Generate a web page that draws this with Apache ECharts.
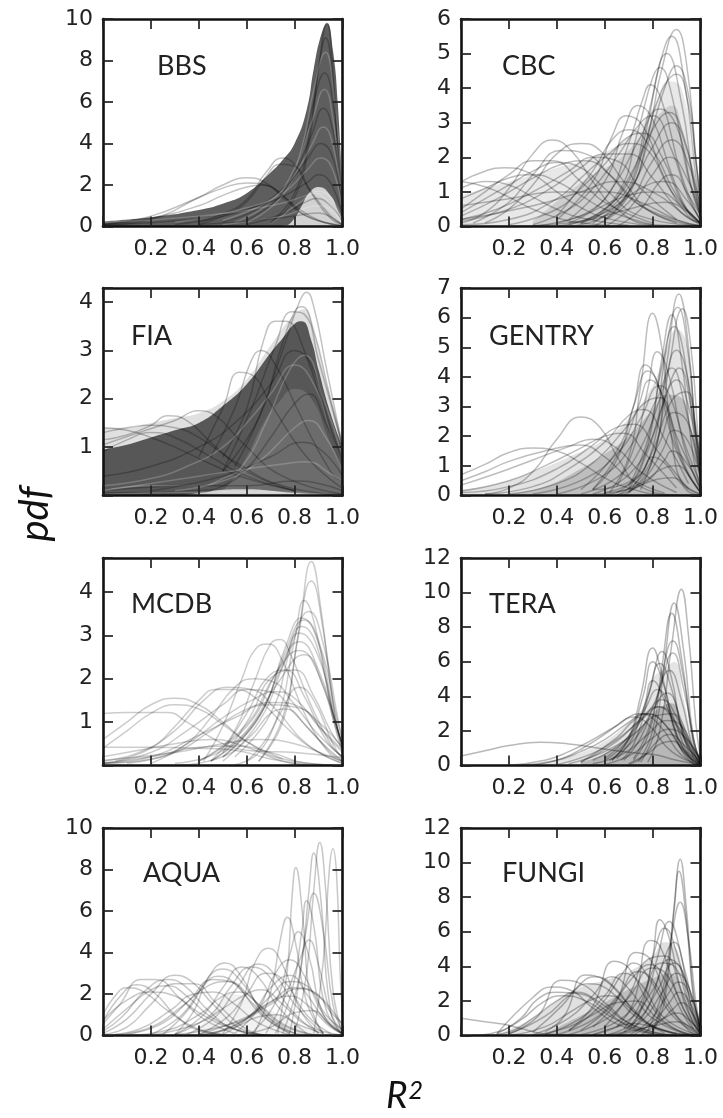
<!DOCTYPE html>
<html><head><meta charset="utf-8">
<style>html,body{margin:0;padding:0;background:#fff}#c{width:723px;height:1118px;filter:blur(.55px)}</style>
<script src="https://cdn.jsdelivr.net/npm/echarts@6/dist/echarts.min.js"></script></head>
<body><div id="c"></div>
<script>
const xTicks=[0.2,0.4,0.6,0.8,1.0];
const bbsTicks=[0,2,4,6,8,10], cbcTicks=[0,1,2,3,4,5,6], fiaTicks=[1,2,3,4], gentryTicks=[0,1,2,3,4,5,6,7],
      mcdbTicks=[1,2,3,4], teraTicks=[0,2,4,6,8,10,12], aquaTicks=[0,2,4,6,8,10], fungiTicks=[0,2,4,6,8,10,12];

// BBS
const bbsMass=[[0,.25],[.2,.45],[.4,.8],[.5,1.1],[.6,1.6],[.7,2.6],[.75,3.2],[.8,4],[.85,5.6],[.88,7.6],[.91,9.2],[.935,9.8],[.96,8.5],[.98,6],[1,1.5]];
const bbsGap=[[0,0],[.7,0],[.76,.05],[.8,.4],[.83,1],[.86,1.6],[.9,1.9],[.95,1.5],[.98,.8],[1,.3]];
const bbsCurves=[
[[0,.05],[.2,.35],[.4,1.4],[.5,2],[.6,2.35],[.68,2.1],[.76,1.3],[.85,.5],[1,.05]],
[[0,.1],[.2,.5],[.4,1.4],[.5,1.85],[.6,2.1],[.7,1.9],[.8,1],[.9,.3],[1,.02]],
[[0,.1],[.2,.4],[.4,1],[.5,1.5],[.6,1.9],[.67,2],[.75,1.5],[.85,.5],[1,.03]],
[[.4,.2],[.5,.6],[.6,1.3],[.68,2.6],[.75,3.3],[.8,3],[.85,2],[.95,.5],[1,.1]],
[[.4,.1],[.5,.5],[.6,1.2],[.68,2.4],[.74,3],[.8,2.9],[.87,1.6],[.95,.4],[1,.1]],
[[.7,.1],[.8,1.4],[.86,4],[.9,7.6],[.935,9.8],[.96,7.5],[.98,3.5],[1,.7]],
[[.7,.2],[.8,1.6],[.86,4.4],[.9,7.6],[.93,9.1],[.96,7],[.98,4],[1,1]],
[[.6,.2],[.75,1.5],[.83,3.8],[.88,6.6],[.93,8.4],[.96,6.8],[.99,3],[1,1.2]],
[[.6,.3],[.75,1.6],[.83,3.6],[.88,6],[.925,7.4],[.96,6],[.99,2.5],[1,1]],
[[.55,.2],[.7,1.2],[.8,2.8],[.87,5],[.925,6.6],[.96,5.2],[.99,2.2],[1,1]],
[[.5,.2],[.7,1.2],[.8,2.6],[.87,4.4],[.92,5.7],[.96,4.6],[.99,2],[1,1]],
[[.5,.3],[.7,1.3],[.8,2.5],[.87,3.9],[.92,4.8],[.96,3.9],[1,1]],
[[.3,.1],[.6,.8],[.75,1.8],[.85,3.2],[.91,4],[.96,3.3],[1,.8]],
[[.3,.2],[.6,.9],[.75,1.6],[.85,2.7],[.91,3.3],[.96,2.7],[1,.7]],
[[0,.1],[.4,.4],[.7,1.2],[.85,2.1],[.9,2.5],[.95,2.1],[1,.5]],
[[0,.2],[.4,.5],[.7,1],[.85,1.5],[.89,1.7],[.95,1.4],[1,.3]],
[[.6,.1],[.75,.6],[.85,1.2],[.89,1.35],[.95,1],[1,.2]],
[[.5,.1],[.75,.5],[.85,.9],[.9,1],[.96,.7],[1,.1]],
[[.4,.1],[.7,.35],[.85,.6],[.9,.65],[.96,.4],[1,.05]],
[[.7,.1],[.85,1.4],[.88,1.6],[.93,1.3],[1,.1]]
];

// CBC
const cbcHalo=[[0,.9],[.2,1.3],[.4,1.7],[.55,2],[.7,2.6],[.8,3.4],[.87,4.2],[.92,4],[.97,2],[1,.5]];
const cbcCore=[[.3,.15],[.45,1],[.55,1.5],[.65,1.9],[.75,2.6],[.82,3.2],[.88,3.5],[.93,2.5],[.98,1],[1,.3]];
const cbcCurves=[
[[.6,.2],[.7,.9],[.78,2.6],[.84,4.6],[.9,5.7],[.94,4.8],[.98,2],[1,.6]],
[[.6,.2],[.7,1],[.78,3],[.83,4.7],[.88,5.5],[.93,4.3],[.98,1.5],[1,.5]],
[[.55,.2],[.7,1.3],[.78,3.2],[.86,5],[.92,3.6],[.97,1.3],[1,.3]],
[[.55,.1],[.7,1],[.78,2.4],[.85,4],[.9,4.65],[.95,3.8],[.98,2],[1,.8]],
[[.5,.1],[.65,.7],[.75,2],[.83,3.8],[.9,4.4],[.95,3.5],[.98,1.9],[1,.8]],
[[.5,.1],[.65,.9],[.74,2.8],[.8,4.3],[.83,4.6],[.88,3.8],[.95,1.4],[1,.3]],
[[.45,.1],[.6,.8],[.7,2.4],[.76,3.7],[.79,4.1],[.84,3.6],[.92,1.5],[1,.15]],
[[.45,.2],[.6,1.3],[.68,2.8],[.74,3.5],[.8,3.1],[.88,1.5],[.95,.4],[1,.1]],
[[.4,.2],[.55,1.3],[.63,2.6],[.69,3.2],[.76,2.9],[.85,1.4],[.95,.3],[1,.1]],
[[.4,.3],[.55,1.6],[.63,2.5],[.7,2.8],[.8,2.2],[.9,.9],[1,.1]],
[[0,.1],[.1,.4],[.2,1.1],[.3,2.1],[.38,2.5],[.46,2.2],[.55,1.3],[.65,.5],[.8,.05],[1,0]],
[[.1,.1],[.2,.5],[.3,1.2],[.4,2.1],[.5,2.4],[.58,2.2],[.68,1.3],[.8,.4],[1,.02]],
[[.05,.1],[.2,.7],[.3,1.5],[.42,2.2],[.52,2.1],[.62,1.5],[.75,.6],[1,.02]],
[[0,1.3],[.1,1.6],[.18,1.7],[.3,1.5],[.4,1],[.5,.55],[.6,.25],[.8,.02]],
[[0,1.3],[.1,1.15],[.2,.85],[.3,.5],[.4,.25],[.5,.1],[.7,0]],
[[0,1.1],[.1,1.3],[.2,1.2],[.3,.85],[.4,.5],[.5,.25],[.7,.03]],
[[0,.8],[.1,1.1],[.2,1.4],[.3,1.5],[.4,1.3],[.5,.9],[.6,.5],[.8,.05]],
[[0,.5],[.1,1],[.2,1.5],[.3,1.9],[.38,1.9],[.5,1.3],[.6,.7],[.8,.1]],
[[0,.4],[.1,.8],[.2,1.2],[.3,1.6],[.4,1.85],[.5,1.7],[.6,1.1],[.75,.3],[1,.02]],
[[0,.3],[.15,.8],[.3,1.4],[.42,1.8],[.52,1.9],[.62,1.5],[.75,.6],[.9,.1]],
[[0,.2],[.15,.5],[.3,1],[.45,1.6],[.55,2],[.65,1.9],[.75,1.1],[.9,.2]],
[[0,.15],[.2,.5],[.35,1],[.5,1.7],[.6,2.1],[.7,2.1],[.8,1.4],[.92,.4],[1,.1]],
[[0,.05],[.2,.2],[.4,.8],[.5,1.4],[.6,2],[.7,2.4],[.78,2.2],[.88,1],[1,.1]],
[[.2,.05],[.4,.5],[.5,1.1],[.6,1.8],[.7,2.6],[.76,2.7],[.84,2],[.93,.6],[1,.1]],
[[.3,.05],[.45,.5],[.55,1.1],[.65,2],[.75,3],[.8,3.2],[.88,2.2],[.95,.8],[1,.2]],
[[.4,.1],[.55,.5],[.65,1.3],[.75,2.6],[.83,3.4],[.9,2.9],[.96,1.2],[1,.3]],
[[.45,.05],[.6,.5],[.7,1.4],[.8,2.8],[.87,3.3],[.93,2.6],[.98,1],[1,.4]],
[[.45,0],[.6,.3],[.7,1],[.8,2.3],[.88,3],[.94,2.3],[1,.4]],
[[.55,0],[.7,.7],[.8,1.9],[.88,2.5],[.95,1.8],[1,.4]],
[[.6,0],[.7,.5],[.8,1.5],[.87,2],[.95,1.3],[1,.3]],
[[.65,0],[.75,.5],[.83,1.3],[.88,1.5],[.95,.9],[1,.3]],
[[.4,0],[.6,.4],[.75,1.1],[.85,1.3],[.95,.7],[1,.15]],
[[.3,0],[.5,.3],[.7,.9],[.82,1],[.92,.6],[1,.1]],
[[.2,0],[.5,.15],[.7,.5],[.85,.7],[.95,.4],[1,.05]],
[[0,.6],[.2,.8],[.4,1],[.6,1],[.75,.7],[.9,.2],[1,.02]],
[[0,.2],[.3,.6],[.5,1],[.65,1.3],[.8,1],[.95,.25],[1,.05]]
];

// FIA
const fiaHalo=[[0,1.4],[.1,1.4],[.2,1.5],[.3,1.6],[.4,1.7],[.5,1.95],[.6,2.4],[.7,3.1],[.8,3.75],[.84,3.85],[.88,3.4],[.94,2.2],[1,1.2]];
const fiaMass=[[0,.95],[.1,1.05],[.2,1.2],[.3,1.35],[.4,1.5],[.5,1.85],[.6,2.3],[.7,2.95],[.75,3.25],[.8,3.55],[.83,3.6],[.87,3.2],[.9,2.6],[.95,1.7],[1,1]];
const fiaSoft=[[.46,0],[.52,.2],[.6,.8],[.67,1.5],[.73,1.9],[.8,2.2],[.87,2],[.94,1.2],[1,.5]];
const fiaGap=[[.33,0],[.42,.06],[.5,.12],[.6,.13],[.7,.1],[.8,.05],[.9,.02],[1,0]];
const fiaCurves=[
[[.55,.6],[.65,1.6],[.75,3],[.82,4],[.85,4.2],[.88,3.9],[.93,2.7],[1,1]],
[[.5,.5],[.65,1.6],[.74,3],[.8,3.8],[.83,3.9],[.88,3.4],[.94,2.2],[1,1]],
[[.5,.5],[.62,1.8],[.72,3.1],[.79,3.8],[.84,3.75],[.9,2.8],[1,1]],
[[.5,.8],[.6,1.8],[.67,3.2],[.72,3.6],[.76,3.6],[.84,3],[.95,1.3],[1,.7]],
[[.45,.8],[.55,1.8],[.62,2.8],[.66,3],[.72,2.7],[.82,1.7],[.95,.5],[1,.3]],
[[.4,.8],[.5,1.8],[.57,2.55],[.62,2.5],[.7,1.9],[.85,.8],[1,.15]],
[[0,1.3],[.1,1.4],[.2,1.45],[.3,1.4],[.4,1.2],[.55,.7],[.75,.2],[1,.02]],
[[0,1.15],[.1,1.25],[.2,1.45],[.27,1.65],[.35,1.55],[.45,1.1],[.6,.5],[.8,.1]],
[[0,1.05],[.15,1.3],[.3,1.55],[.4,1.75],[.47,1.65],[.58,1.1],[.75,.4],[1,.03]],
[[0,1.4],[.1,1.35],[.2,1.2],[.3,1],[.45,.65],[.6,.35],[.8,.1]],
[[0,.9],[.1,1.15],[.2,1.3],[.3,1.2],[.45,.8],[.6,.4],[.8,.1]],
[[0,.2],[.2,.35],[.35,.6],[.5,1],[.6,1.5],[.7,2.1],[.8,2.7],[.88,2.3],[.95,1.3],[1,.7]],
[[0,.4],[.2,.6],[.4,1],[.55,1.5],[.7,2.3],[.8,3],[.87,2.7],[.95,1.4],[1,.8]],
[[0,.1],[.2,.2],[.4,.2],[.5,.35],[.58,.6],[.68,1.5],[.78,2.6],[.84,2.9],[.92,2],[1,.8]],
[[0,.05],[.4,.1],[.5,.2],[.6,.55],[.7,1.2],[.8,1.9],[.86,2.1],[.93,1.5],[1,.7]],
[[.3,.1],[.5,.3],[.65,.7],[.8,1.4],[.86,1.55],[.93,1.2],[1,.5]],
[[.2,.1],[.5,.4],[.7,.8],[.83,1.1],[.92,.9],[1,.4]],
[[0,.1],[.4,.4],[.6,.55],[.75,.65],[.85,.7],[.95,.45],[1,.3]],
[[0,.1],[.4,.2],[.6,.2],[.8,.3],[.9,.25],[1,.1]],
[[0,.02],[.5,.07],[.7,.07],[.9,.03],[1,.01]]
];

// GENTRY
const gentryHalo=[[0,.2],[.15,.4],[.3,.8],[.45,1.3],[.6,1.9],[.7,2.6],[.8,3.7],[.86,5],[.9,5.6],[.94,5.2],[.98,2.6],[1,1]];
const gentryCore=[[.2,.05],[.35,.3],[.5,.9],[.6,1.4],[.7,2],[.8,2.9],[.86,3.4],[.92,3.3],[.96,2.2],[1,.9]];
const gentryCurves=[
[[.7,.1],[.8,1.2],[.86,4.5],[.91,6.8],[.95,5],[.98,2],[1,.6]],
[[.7,.1],[.8,1.6],[.85,4.6],[.905,6.35],[.95,4.7],[.98,2],[1,.8]],
[[.75,.2],[.82,1.8],[.87,4.4],[.925,6.3],[.96,5],[.99,2],[1,1.2]],
[[.62,.1],[.7,1.3],[.75,3.7],[.8,6.15],[.84,4.9],[.88,1.9],[.93,.3],[1,0]],
[[.7,.2],[.78,1.7],[.84,4.7],[.88,6.1],[.92,4.6],[.97,1.3],[1,.3]],
[[.7,.3],[.78,1.9],[.84,4.4],[.89,5.7],[.93,4.8],[.98,1.6],[1,.6]],
[[.65,.3],[.73,1.8],[.78,3.6],[.82,4.85],[.87,4],[.93,1.7],[1,.2]],
[[.55,.2],[.65,1.2],[.72,3],[.77,4.4],[.82,3.8],[.9,1.5],[1,.1]],
[[.5,.2],[.65,1.5],[.72,3],[.78,4.2],[.84,3.4],[.92,1.2],[1,.1]],
[[.55,.2],[.67,1.6],[.74,3],[.79,3.9],[.85,3.2],[.93,1.1],[1,.1]],
[[.1,.05],[.2,.25],[.3,.8],[.4,1.9],[.5,2.65],[.58,2.3],[.66,1.2],[.75,.3],[.9,0]],
[[0,.7],[.1,1.05],[.2,1.45],[.3,1.6],[.4,1.5],[.5,1.1],[.6,.6],[.7,.25],[.85,.03],[1,0]],
[[0,.5],[.1,.8],[.2,1.15],[.35,1.5],[.5,1.7],[.6,1.3],[.7,.6],[.85,.08]],
[[0,.35],[.15,.75],[.3,1.2],[.45,1.65],[.55,1.9],[.65,1.6],[.75,.8],[.9,.1]],
[[0,.15],[.2,.5],[.35,1],[.5,1.6],[.6,2],[.68,2.1],[.77,1.4],[.9,.25]],
[[0,.1],[.2,.3],[.4,.9],[.55,1.7],[.65,2.3],[.72,2.4],[.82,1.5],[.95,.2]],
[[.1,.05],[.3,.3],[.45,.9],[.6,1.8],[.7,2.7],[.76,2.9],[.85,1.9],[.95,.4]],
[[.2,.05],[.4,.4],[.55,1.1],[.68,2.2],[.78,3.2],[.83,3.3],[.9,2],[1,.2]],
[[.3,.05],[.5,.5],[.65,1.4],[.75,2.6],[.83,3.7],[.87,3.4],[.94,1.6],[1,.4]],
[[.4,.05],[.6,.7],[.72,1.8],[.82,3.3],[.88,4.3],[.93,3.2],[1,.6]],
[[.5,.05],[.65,.6],[.75,1.6],[.84,3.5],[.9,4.9],[.95,3.8],[1,.8]],
[[.55,.05],[.7,.7],[.8,2],[.86,3.5],[.91,4.3],[.96,3],[1,.8]],
[[.55,.2],[.7,.45],[.77,1.3],[.84,3],[.9,3.9],[.95,3],[1,1]],
[[.6,.1],[.72,.5],[.8,1.5],[.88,3.2],[.94,3.5],[.98,2.2],[1,1]],
[[.65,0],[.75,.6],[.83,1.8],[.89,2.8],[.95,2.4],[1,.6]],
[[.68,0],[.77,.6],[.84,1.5],[.89,2.2],[.95,1.8],[1,.5]],
[[.65,0],[.78,.5],[.85,1.2],[.88,1.5],[.95,1],[1,.25]],
[[.6,0],[.75,.4],[.84,.9],[.9,1],[.97,.45],[1,.1]],
[[.5,0],[.7,.2],[.82,.55],[.88,.6],[.96,.2],[1,.05]],
[[.65,.1],[.75,.7],[.8,1.3],[.85,1.1],[.92,.4],[1,.03]]
];

// MCDB
const mcdbCurves=[
[[.65,.1],[.75,1.1],[.82,3.2],[.87,4.7],[.91,3.6],[.96,1.4],[1,.4]],
[[.65,.1],[.75,1],[.81,2.8],[.87,4.25],[.92,3.1],[.97,1.1],[1,.4]],
[[.6,.1],[.72,1],[.8,2.9],[.84,3.8],[.89,3.1],[.96,1.1],[1,.3]],
[[.55,.2],[.7,1.2],[.79,2.8],[.86,3.55],[.92,2.8],[.98,1.1],[1,.6]],
[[.5,.2],[.66,1.2],[.76,2.7],[.83,3.4],[.9,2.8],[.97,1],[1,.5]],
[[.5,.2],[.65,1.1],[.76,2.6],[.84,3.35],[.91,2.7],[.98,1],[1,.6]],
[[.5,.1],[.65,1],[.76,2.4],[.83,3.2],[.89,2.8],[.96,1.2],[1,.5]],
[[.45,.1],[.62,.9],[.75,2.3],[.82,3.05],[.9,2.5],[.97,1],[1,.5]],
[[.4,.1],[.6,.9],[.73,2.2],[.82,2.85],[.9,2.2],[.98,.8],[1,.5]],
[[.4,.1],[.6,.95],[.72,2.1],[.82,2.65],[.9,2.1],[.97,.9],[1,.4]],
[[.45,.1],[.6,.8],[.73,1.9],[.84,2.55],[.92,1.8],[1,.4]],
[[.3,.05],[.5,.35],[.6,1],[.72,2.1],[.8,2.2],[.88,1.6],[.95,.8],[1,.4]],
[[.42,.1],[.5,.9],[.58,2],[.64,2.7],[.69,2.8],[.75,2.4],[.85,1.1],[.95,.25],[1,.1]],
[[.45,.1],[.55,.8],[.63,1.9],[.7,2.8],[.74,2.9],[.78,2.6],[.86,1.5],[.95,.5],[1,.2]],
[[.5,.3],[.6,1.2],[.7,2.1],[.76,2.2],[.84,1.6],[.93,.6],[1,.2]],
[[.2,.05],[.35,.5],[.45,1.1],[.55,1.8],[.63,2],[.7,1.95],[.8,1.4],[.9,.7],[1,.2]],
[[.05,.1],[.2,.4],[.3,.9],[.4,1.5],[.47,1.75],[.55,1.75],[.65,1.5],[.78,.8],[.9,.3],[1,.05]],
[[0,.1],[.15,.3],[.3,.8],[.42,1.5],[.52,1.8],[.62,1.75],[.72,1.3],[.85,.5],[1,.05]],
[[0,.05],[.2,.3],[.35,.8],[.5,1.4],[.6,1.75],[.7,1.7],[.8,1.2],[.9,.6],[1,.1]],
[[0,.05],[.2,.15],[.35,.5],[.5,1.1],[.62,1.5],[.72,1.7],[.8,1.55],[.9,.9],[1,.3]],
[[.1,.05],[.3,.3],[.45,.8],[.6,1.3],[.72,1.45],[.82,1.35],[.92,.8],[1,.35]],
[[0,.05],[.2,.2],[.4,.7],[.55,1.1],[.68,1.4],[.8,1.35],[.9,1],[1,.4]],
[[0,.6],[.1,1],[.2,1.4],[.3,1.55],[.4,1.4],[.5,1],[.6,.55],[.75,.15],[1,0]],
[[0,.4],[.1,.8],[.2,1.2],[.3,1.4],[.4,1.3],[.5,.95],[.6,.55],[.75,.15]],
[[0,1.2],[.1,1.22],[.2,1.22],[.27,1.22],[.35,1],[.45,.65],[.55,.4],[.65,.33],[.8,.3],[1,.18]],
[[0,.42],[.2,.42],[.4,.4],[.55,.35],[.7,.15],[.85,.02]],
[[0,.2],[.15,.35],[.3,.5],[.45,.6],[.6,.42],[.75,.1],[.9,0]],
[[0,.05],[.2,.2],[.4,.42],[.55,.45],[.7,.3],[.85,.05],[1,0]],
[[.3,0],[.5,.2],[.62,.7],[.7,1.2],[.76,1.3],[.85,.9],[.95,.3],[1,.1]],
[[.55,.02],[.65,.3],[.75,1.3],[.82,1.8],[.88,1.5],[.96,.5],[1,.15]],
[[0,.12],[.3,.3],[.5,.5],[.65,.6],[.8,.5],[.95,.2],[1,.1]]
];

// TERA
const teraHalo=[[.3,.05],[.45,.5],[.6,1.4],[.7,2.5],[.76,3.4],[.8,5],[.85,5.6],[.89,6],[.93,3.8],[.97,1.4],[1,.4]];
const teraCore=[[.5,.2],[.6,.7],[.7,1.6],[.76,2.4],[.8,3],[.85,3.5],[.88,3.6],[.92,2.6],[.96,1.2],[1,.3]];
const teraCurves=[
[[.78,.2],[.83,2],[.88,7],[.92,10.2],[.95,7.5],[.98,2.5],[1,.4]],
[[.75,.2],[.81,2],[.85,6],[.89,9.4],[.93,6.6],[.97,1.6],[1,.3]],
[[.74,.2],[.8,2],[.84,5.8],[.88,8.8],[.92,6.3],[.97,1.3],[1,.2]],
[[.72,.3],[.78,1.7],[.83,4.6],[.885,7.2],[.93,5],[.97,1.5],[1,.3]],
[[.72,.4],[.78,2],[.83,4.4],[.885,6.5],[.93,4.4],[.98,1],[1,.2]],
[[.63,.3],[.7,1.6],[.75,4],[.8,6.8],[.84,5.2],[.9,1.6],[.96,.2],[1,0]],
[[.63,.3],[.7,1.5],[.76,4],[.8,6],[.85,4.5],[.9,1.8],[.97,.2]],
[[.67,.3],[.73,1.5],[.79,4.4],[.84,6.6],[.88,5],[.93,1.7],[1,.1]],
[[.65,.4],[.72,1.7],[.78,4],[.83,5.9],[.88,4.4],[.95,.8],[1,.1]],
[[.68,.3],[.75,1.6],[.81,3.7],[.87,5.5],[.92,3.8],[.97,.9],[1,.1]],
[[.6,.3],[.7,1.5],[.76,3.2],[.8,4.9],[.86,3.4],[.93,.9],[1,.05]],
[[.6,.4],[.7,1.7],[.77,3.3],[.82,4.4],[.88,3],[.95,.6],[1,.05]],
[[.62,.3],[.73,1.6],[.8,3.2],[.86,4.2],[.92,2.6],[.98,.5],[1,.1]],
[[.55,.3],[.68,1.4],[.77,2.9],[.84,3.8],[.9,2.8],[.97,.7],[1,.2]],
[[.5,.2],[.65,1.4],[.75,2.7],[.82,3.4],[.9,2.3],[.97,.5],[1,.1]],
[[.5,.2],[.65,1.6],[.72,2.6],[.78,3],[.85,2.4],[.93,.8],[1,.1]],
[[0,.55],[.1,.85],[.2,1.15],[.33,1.35],[.45,1.25],[.55,1.05],[.65,.85],[.75,.7],[.8,.65],[.9,.3],[1,.05]],
[[.2,.02],[.35,.3],[.45,.8],[.55,1.5],[.65,2.3],[.72,2.8],[.78,2.4],[.88,.8],[1,.02]],
[[.3,.02],[.42,.4],[.52,1.1],[.62,2],[.7,2.8],[.75,3],[.83,2.3],[.92,.6],[1,.02]],
[[.25,.02],[.4,.3],[.5,.8],[.6,1.5],[.7,2.5],[.77,3],[.85,2.4],[.94,.6],[1,.05]],
[[.4,.05],[.55,.7],[.65,1.5],[.75,2.6],[.83,3.4],[.9,2.4],[.97,.5]],
[[.45,.1],[.6,.8],[.72,1.8],[.82,2.9],[.88,3],[.94,1.7],[1,.3]],
[[.55,.1],[.68,.7],[.78,1.8],[.86,2.6],[.92,2.3],[.97,1],[1,.3]],
[[.6,.05],[.72,.7],[.8,1.6],[.87,2.1],[.93,1.7],[1,.3]],
[[.7,.05],[.76,.5],[.82,1.4],[.87,1.8],[.93,1.2],[1,.2]],
[[.7,.1],[.78,.7],[.84,1.3],[.88,1.4],[.94,.8],[1,.1]]
];

// AQUA
const aquaCurves=[
[[.8,.1],[.85,3],[.88,7],[.905,9.3],[.93,7],[.96,2.2],[1,.1]],
[[.88,.1],[.92,3.6],[.945,8],[.96,9],[.975,7.8],[.99,3],[1,1]],
[[.78,.1],[.83,3.5],[.86,7],[.88,8.8],[.91,6.5],[.95,1.2],[1,0]],
[[.73,.1],[.77,3.2],[.79,6.8],[.805,8.1],[.83,6.2],[.87,1.4],[.92,.1]],
[[.75,.1],[.81,2.3],[.85,5.2],[.88,6.85],[.92,5],[.96,1.5],[1,.2]],
[[.72,.1],[.79,2.2],[.83,5],[.85,6.5],[.88,5.3],[.93,1.3],[1,.1]],
[[.63,.1],[.7,2.1],[.74,4.6],[.77,5.7],[.8,4.7],[.85,1.6],[.92,.1]],
[[.62,.1],[.72,1.6],[.78,3.9],[.815,5],[.86,3.8],[.92,1],[1,.05]],
[[.68,.1],[.75,1.6],[.82,3.6],[.86,4.6],[.9,3.4],[.95,1.1],[1,.2]],
[[.5,.1],[.58,1.6],[.63,3.4],[.69,4.2],[.75,3.4],[.82,1.3],[.9,.1]],
[[.55,.1],[.65,1.3],[.72,3],[.78,3.65],[.84,2.9],[.92,1],[1,.1]],
[[.3,.05],[.38,1.2],[.44,2.8],[.51,3.5],[.58,2.8],[.66,1.2],[.78,.1]],
[[.25,.05],[.36,1.3],[.44,2.8],[.5,3.2],[.57,2.7],[.68,1],[.8,.1]],
[[.2,.05],[.33,1],[.42,2.4],[.48,2.85],[.55,2.5],[.66,1],[.78,.1]],
[[.1,.05],[.25,.6],[.36,1.7],[.46,2.7],[.53,2.6],[.62,1.6],[.72,.5],[.85,0]],
[[.05,.05],[.2,.4],[.33,1.4],[.44,2.4],[.52,2.6],[.62,1.8],[.75,.5],[.9,0]],
[[.3,.05],[.42,1],[.5,2.3],[.58,3.3],[.65,2.8],[.73,1.4],[.85,.1]],
[[.3,.05],[.45,1],[.53,2.3],[.62,3.3],[.69,2.9],[.78,1.3],[.9,.1]],
[[.35,.05],[.47,.9],[.56,2.3],[.65,3.45],[.72,2.9],[.8,1.5],[.92,.1]],
[[.4,.05],[.52,.9],[.6,2],[.68,3],[.75,2.7],[.85,1],[.95,.1]],
[[.5,.05],[.62,1],[.7,2.3],[.78,2.9],[.85,2],[.93,.7],[1,.1]],
[[.45,.05],[.6,.8],[.7,1.9],[.78,2.6],[.85,2.4],[.93,1],[1,.3]],
[[.4,.05],[.6,.9],[.7,1.6],[.8,2.3],[.88,2.1],[.96,1],[1,.6]],
[[.3,.05],[.55,.6],[.7,1.5],[.82,2.25],[.9,1.9],[.97,1],[1,.5]],
[[0,.7],[.08,2],[.14,2.45],[.22,2],[.3,1],[.4,.25],[.55,0]],
[[0,1],[.05,1.9],[.1,2.3],[.17,2.1],[.27,1.2],[.38,.4],[.5,.05]],
[[0,.55],[.07,1.5],[.16,2.7],[.22,2.7],[.32,1.8],[.42,.8],[.55,.1]],
[[0,.2],[.08,.9],[.18,2.2],[.27,2.7],[.34,2.4],[.44,1.2],[.55,.3],[.7,0]],
[[0,.1],[.1,.8],[.2,2],[.3,2.9],[.37,2.6],[.46,1.5],[.58,.3],[.7,0]],
[[0,.05],[.1,.4],[.2,1.5],[.3,2.5],[.38,2.5],[.47,1.6],[.6,.3],[.7,0]],
[[0,.3],[.1,1.3],[.2,2.2],[.27,2.4],[.35,1.9],[.45,.9],[.6,.1]],
[[0,.7],[.1,1.7],[.2,2.1],[.3,1.9],[.4,1.1],[.55,.3],[.7,0]],
[[0,0],[.15,.3],[.28,1.2],[.38,2],[.46,2.1],[.55,1.5],[.65,.6],[.8,0]],
[[.1,0],[.25,.2],[.4,1],[.5,1.9],[.57,2.1],[.66,1.4],[.76,.5],[.9,0]],
[[.2,0],[.4,.6],[.5,1.3],[.6,2],[.66,2.2],[.75,1.5],[.85,.5],[1,.02]],
[[.4,0],[.55,.5],[.68,1.5],[.78,1.9],[.86,1.4],[.95,.4],[1,.1]],
[[.55,0],[.7,.4],[.8,1.1],[.87,1.2],[.95,.5],[1,.1]],
[[.4,0],[.55,.4],[.65,.9],[.72,1],[.82,.5],[.92,.1]]
];
const aquaShade=[[.33,0],[.42,.6],[.5,1.8],[.55,2],[.62,1.6],[.7,1.2],[.78,.8],[.88,.3],[1,0]];

// FUNGI
const fungiHalo=[[.15,.05],[.3,1],[.4,2],[.5,2.8],[.6,3.2],[.7,3.7],[.8,4.6],[.85,5.4],[.89,5.2],[.93,3.6],[.97,1.5],[1,.2]];
const fungiCore=[[.35,.1],[.45,.8],[.55,1.5],[.65,2.3],[.72,2.8],[.8,3.3],[.87,3.6],[.92,2.6],[.97,1],[1,.2]];
const fungiCurves=[
[[.8,.2],[.85,2],[.89,7.5],[.915,10.2],[.94,7.5],[.97,2.5],[1,.3]],
[[.8,.3],[.85,2.5],[.89,7.3],[.91,9.5],[.94,6.8],[.97,2.2],[1,.3]],
[[.78,.3],[.84,2.5],[.88,5.8],[.915,7.7],[.95,5.5],[.98,2],[1,.5]],
[[.68,.2],[.75,1.5],[.8,4.5],[.83,6.7],[.87,5.6],[.93,2],[1,.1]],
[[.7,.3],[.77,2],[.82,4.5],[.87,6.6],[.91,5.2],[.96,1.7],[1,.2]],
[[.68,.4],[.76,2.2],[.81,5],[.85,6.2],[.9,4.8],[.96,1.4],[1,.1]],
[[.65,.5],[.72,1.9],[.79,5.5],[.83,5.2],[.9,2.5],[.97,.4]],
[[.72,.4],[.79,1.9],[.85,4.5],[.89,5.4],[.93,4],[.98,1.1],[1,.3]],
[[.55,.5],[.65,2],[.73,4.8],[.79,4.4],[.86,2.1],[.95,.3],[1,0]],
[[.6,.5],[.7,2.3],[.78,4.4],[.85,4.6],[.91,3],[.97,.7],[1,.1]],
[[.45,.3],[.55,1.7],[.64,4.3],[.7,3.9],[.78,2],[.88,.5],[1,0]],
[[.45,.3],[.58,1.7],[.68,3.7],[.72,4.2],[.79,3.2],[.88,1.2],[1,0]],
[[.5,.3],[.62,1.6],[.72,3.4],[.79,4.1],[.86,3],[.95,.7],[1,.05]],
[[.35,.2],[.43,1.1],[.52,3.5],[.6,3.2],[.7,1.8],[.82,.4],[1,0]],
[[.3,.2],[.42,1.7],[.5,3],[.56,3.4],[.64,2.8],[.75,1],[.9,.05]],
[[.2,.1],[.32,1.1],[.42,3.2],[.5,3],[.6,1.9],[.72,.6],[.9,0]],
[[.15,.1],[.3,2.2],[.38,2.8],[.46,2.6],[.55,1.6],[.68,.5],[.85,0]],
[[.15,.1],[.25,1],[.32,2.1],[.4,2.5],[.5,2.4],[.6,1.5],[.72,.4],[.9,0]],
[[.2,.1],[.35,1.1],[.45,2.3],[.53,3],[.62,2.6],[.72,1.2],[.85,.15]],
[[.3,.05],[.45,1],[.55,2.3],[.63,3.4],[.7,2.7],[.8,1],[.95,.05]],
[[.35,.05],[.5,1],[.6,2.3],[.68,3.6],[.75,3],[.85,1],[1,0]],
[[.4,.05],[.55,.9],[.65,2.2],[.74,3.7],[.8,3.2],[.88,1.4],[1,.02]],
[[.45,.05],[.6,.9],[.7,2.2],[.8,3.9],[.86,3.5],[.93,1.5],[1,.1]],
[[.5,.05],[.65,.8],[.75,2.2],[.84,4.2],[.89,4],[.95,1.8],[1,.2]],
[[.55,.05],[.7,.9],[.8,2.6],[.87,4.4],[.92,3.8],[.97,1.3],[1,.2]],
[[.6,.02],[.73,.8],[.82,2.6],[.89,4.2],[.94,3.2],[1,.3]],
[[.65,.02],[.76,.9],[.84,2.5],[.9,3.6],[.95,2.8],[1,.3]],
[[.7,.02],[.79,.9],[.86,2.3],[.91,3.1],[.96,2.2],[1,.3]],
[[.72,.02],[.81,.9],[.87,1.9],[.91,2.5],[.96,1.8],[1,.3]],
[[.75,.02],[.83,.8],[.89,1.6],[.92,1.9],[.97,1.2],[1,.3]],
[[.65,.02],[.78,.5],[.86,1.1],[.9,1.3],[.96,.8],[1,.2]],
[[.6,0],[.72,.3],[.85,.7],[.9,.8],[.97,.4],[1,.1]],
[[0,1],[.1,.8],[.18,.65],[.25,.4],[.35,.1],[.5,0]],
[[.05,0],[.15,.2],[.25,.9],[.34,1.9],[.42,2.3],[.52,2],[.65,.9],[.8,.1]],
[[.1,0],[.2,.2],[.3,1],[.4,2],[.48,2.5],[.58,1.9],[.7,.7],[.85,.05]],
[[.2,0],[.35,.5],[.45,1.3],[.55,2.1],[.62,2.3],[.72,1.4],[.84,.3],[1,0]],
[[.3,0],[.45,.5],[.55,1.2],[.65,1.9],[.73,2],[.82,1],[.92,.2],[1,0]],
[[.55,.05],[.65,.5],[.72,.7],[.8,.5],[.9,.1]]
];

const panelNames=['BBS','CBC','FIA','GENTRY','MCDB','TERA','AQUA','FUNGI'];
const panelMax=[10,6,4.29,7,4.78,12,10,12];
const panelStep=[2,1,1,1,1,2,2,2];
const panelTicks=[bbsTicks,cbcTicks,fiaTicks,gentryTicks,mcdbTicks,teraTicks,aquaTicks,fungiTicks];
const panelCurves=[bbsCurves,cbcCurves,fiaCurves,gentryCurves,mcdbCurves,teraCurves,aquaCurves,fungiCurves];
const panelBands=[
 [[bbsMass,'rgba(80,80,80,.92)'],[bbsGap,'rgba(255,255,255,.72)']],
 [[cbcHalo,'rgba(0,0,0,.09)'],[cbcCore,'rgba(0,0,0,.11)']],
 [[fiaHalo,'rgba(0,0,0,.12)'],[fiaMass,'rgba(72,72,72,.9)'],[fiaSoft,'rgba(255,255,255,.13)'],[fiaGap,'rgba(255,255,255,.7)']],
 [[gentryHalo,'rgba(0,0,0,.11)'],[gentryCore,'rgba(0,0,0,.16)']],
 [],
 [[teraHalo,'rgba(0,0,0,.1)'],[teraCore,'rgba(0,0,0,.2)']],
 [[aquaShade,'rgba(0,0,0,.05)']],
 [[fungiHalo,'rgba(0,0,0,.12)'],[fungiCore,'rgba(0,0,0,.15)']]
];
const panelAlpha=[.24,.26,.24,.26,.2,.28,.22,.28];
const streakFrom=[7,99,11,99,99,99,99,99];
const labelPos=[[157,66],[502,66],[131,336],[489,336],[131,604],[489,604],[143,873],[502,873]];
const lefts=[103,461], tops=[19,288,558,828];

const grid=[],xAxis=[],yAxis=[],series=[],graphic=[];
const ink='#222';
panelNames.forEach((name,i)=>{
  const l=lefts[i%2], t=tops[Math.floor(i/2)];
  grid.push({left:l,top:t,width:239.5,height:207.5});
  const common={type:'value',z:10,axisLine:{show:true,onZero:false,lineStyle:{color:'#111',width:2.6}},splitLine:{show:false},
    axisTick:{show:true,inside:true,length:10,lineStyle:{color:ink,width:1.7}}};
  xAxis.push({...common,gridIndex:i,position:'bottom',min:0,max:1,interval:.2,
    axisLabel:{customValues:xTicks,formatter:v=>v.toFixed(1),margin:12,color:ink,fontFamily:'DejaVu Sans',fontSize:22}});
  xAxis.push({...common,gridIndex:i,position:'top',min:0,max:1,interval:.2,axisLabel:{show:false}});
  yAxis.push({...common,gridIndex:i,position:'left',min:0,max:panelMax[i],interval:panelStep[i],
    axisLabel:{customValues:panelTicks[i],formatter:v=>String(v),margin:10,color:ink,fontFamily:'DejaVu Sans',fontSize:22}});
  yAxis.push({...common,gridIndex:i,position:'right',min:0,max:panelMax[i],interval:panelStep[i],axisLabel:{show:false}});
  const ax={xAxisIndex:i*2,yAxisIndex:i*2,type:'line',showSymbol:false,silent:true,animation:false,smooth:.5};
  panelBands[i].forEach((b,k)=>series.push({...ax,z:2+k*0.01,data:b[0],lineStyle:{width:0},areaStyle:{color:b[1],opacity:1}}));
  panelCurves[i].forEach((c,k)=>{
    const light=k>=streakFrom[i]&&k%2===1;
    series.push({...ax,z:3,data:c,lineStyle:light?{color:'#fff',opacity:.2,width:1.5}:{color:'#000',opacity:panelAlpha[i],width:1.5}});
  });
  graphic.push({type:'text',left:labelPos[i][0],top:labelPos[i][1]-13,z:20,style:{text:name,font:'27px Lato',fill:'#222'}});
});
graphic.push({type:'text',z:20,x:35,y:514,rotation:Math.PI/2,style:{text:'pdf',font:'italic 40px Lato',fill:'#111',align:'center',verticalAlign:'middle'}});
graphic.push({type:'text',z:20,left:386,top:1078,style:{rich:{r:{font:'italic 37px Lato',fill:'#111'},s:{font:'italic 25px Lato',fill:'#111',verticalAlign:'top',padding:[0,0,12,1]}},text:'{r|R}{s|2}'}});
const chart=echarts.init(document.getElementById('c'),null,{renderer:'canvas'});
chart.setOption({animation:false,backgroundColor:'#fff',grid,xAxis,yAxis,series,graphic});
</script></body></html>
